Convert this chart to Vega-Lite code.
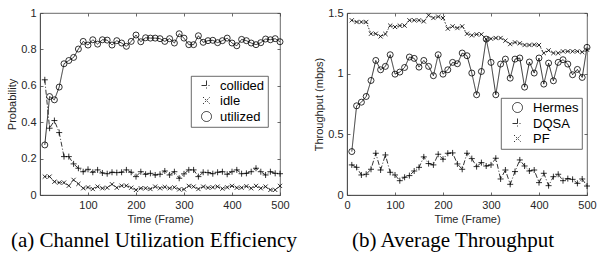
{
  "$schema": "https://vega.github.io/schema/vega-lite/v6.json",
  "padding": {"left": 6, "top": 6, "right": 5, "bottom": 2},
  "bounds": "flush",
  "spacing": 67,
  "resolve": {"scale": {"shape": "independent", "strokeDash": "independent"}, "legend": {"shape": "independent", "strokeDash": "independent"}},
  "config": {
    "view": {"stroke": "#444", "strokeWidth": 0.8},
    "axis": {"grid": false, "labelFont": "Liberation Sans", "labelFontSize": 11, "labelColor": "#262626", "titleFont": "Liberation Sans", "titleFontSize": 11, "titleFontWeight": "normal", "titleColor": "#262626", "domainColor": "#444", "domainWidth": 0.8, "tickColor": "#444", "tickWidth": 0.8, "tickSize": -3, "labelPadding": 7, "titlePadding": 3, "labelFlush": false, "labelOverlap": false},
    "legend": {"labelFont": "Liberation Sans", "labelFontSize": 13, "labelColor": "black", "fillColor": "white", "strokeColor": "#444", "strokeWidth": 0.8, "padding": 3, "rowPadding": 1, "symbolSize": 100, "symbolStrokeWidth": 0.8},
    "title": {"font": "Liberation Serif", "fontSize": 21, "fontWeight": "normal", "color": "black", "offset": 6}
  },
  "datasets": {
    "util": [
      {"t": 10, "series": "utilized", "v": 0.275}, {"t": 20, "series": "utilized", "v": 0.541}, {"t": 30, "series": "utilized", "v": 0.523}, {"t": 40, "series": "utilized", "v": 0.593}, {"t": 50, "series": "utilized", "v": 0.721},
      {"t": 60, "series": "utilized", "v": 0.739}, {"t": 70, "series": "utilized", "v": 0.756}, {"t": 80, "series": "utilized", "v": 0.802}, {"t": 90, "series": "utilized", "v": 0.844}, {"t": 100, "series": "utilized", "v": 0.824},
      {"t": 110, "series": "utilized", "v": 0.853}, {"t": 120, "series": "utilized", "v": 0.829}, {"t": 130, "series": "utilized", "v": 0.853}, {"t": 140, "series": "utilized", "v": 0.851}, {"t": 150, "series": "utilized", "v": 0.824},
      {"t": 160, "series": "utilized", "v": 0.848}, {"t": 170, "series": "utilized", "v": 0.835}, {"t": 180, "series": "utilized", "v": 0.817}, {"t": 190, "series": "utilized", "v": 0.844}, {"t": 200, "series": "utilized", "v": 0.879},
      {"t": 210, "series": "utilized", "v": 0.842}, {"t": 220, "series": "utilized", "v": 0.864}, {"t": 230, "series": "utilized", "v": 0.862}, {"t": 240, "series": "utilized", "v": 0.862}, {"t": 250, "series": "utilized", "v": 0.859},
      {"t": 260, "series": "utilized", "v": 0.844}, {"t": 270, "series": "utilized", "v": 0.859}, {"t": 280, "series": "utilized", "v": 0.835}, {"t": 290, "series": "utilized", "v": 0.886}, {"t": 300, "series": "utilized", "v": 0.862},
      {"t": 310, "series": "utilized", "v": 0.826}, {"t": 320, "series": "utilized", "v": 0.826}, {"t": 330, "series": "utilized", "v": 0.875}, {"t": 340, "series": "utilized", "v": 0.839}, {"t": 350, "series": "utilized", "v": 0.848},
      {"t": 360, "series": "utilized", "v": 0.850}, {"t": 370, "series": "utilized", "v": 0.837}, {"t": 380, "series": "utilized", "v": 0.848}, {"t": 390, "series": "utilized", "v": 0.862}, {"t": 400, "series": "utilized", "v": 0.835},
      {"t": 410, "series": "utilized", "v": 0.820}, {"t": 420, "series": "utilized", "v": 0.855}, {"t": 430, "series": "utilized", "v": 0.848}, {"t": 440, "series": "utilized", "v": 0.835}, {"t": 450, "series": "utilized", "v": 0.826},
      {"t": 460, "series": "utilized", "v": 0.837}, {"t": 470, "series": "utilized", "v": 0.857}, {"t": 480, "series": "utilized", "v": 0.853}, {"t": 490, "series": "utilized", "v": 0.859}, {"t": 500, "series": "utilized", "v": 0.842},
      {"t": 10, "series": "collided", "v": 0.633}, {"t": 20, "series": "collided", "v": 0.367}, {"t": 30, "series": "collided", "v": 0.409}, {"t": 40, "series": "collided", "v": 0.343}, {"t": 50, "series": "collided", "v": 0.211},
      {"t": 60, "series": "collided", "v": 0.211}, {"t": 70, "series": "collided", "v": 0.171}, {"t": 80, "series": "collided", "v": 0.147}, {"t": 90, "series": "collided", "v": 0.128}, {"t": 100, "series": "collided", "v": 0.141},
      {"t": 110, "series": "collided", "v": 0.125}, {"t": 120, "series": "collided", "v": 0.138}, {"t": 130, "series": "collided", "v": 0.121}, {"t": 140, "series": "collided", "v": 0.117}, {"t": 150, "series": "collided", "v": 0.125},
      {"t": 160, "series": "collided", "v": 0.123}, {"t": 170, "series": "collided", "v": 0.125}, {"t": 180, "series": "collided", "v": 0.138}, {"t": 190, "series": "collided", "v": 0.125}, {"t": 200, "series": "collided", "v": 0.101},
      {"t": 210, "series": "collided", "v": 0.128}, {"t": 220, "series": "collided", "v": 0.114}, {"t": 230, "series": "collided", "v": 0.119}, {"t": 240, "series": "collided", "v": 0.110}, {"t": 250, "series": "collided", "v": 0.114},
      {"t": 260, "series": "collided", "v": 0.132}, {"t": 270, "series": "collided", "v": 0.110}, {"t": 280, "series": "collided", "v": 0.128}, {"t": 290, "series": "collided", "v": 0.092}, {"t": 300, "series": "collided", "v": 0.116},
      {"t": 310, "series": "collided", "v": 0.138}, {"t": 320, "series": "collided", "v": 0.138}, {"t": 330, "series": "collided", "v": 0.101}, {"t": 340, "series": "collided", "v": 0.125}, {"t": 350, "series": "collided", "v": 0.123},
      {"t": 360, "series": "collided", "v": 0.117}, {"t": 370, "series": "collided", "v": 0.125}, {"t": 380, "series": "collided", "v": 0.128}, {"t": 390, "series": "collided", "v": 0.114}, {"t": 400, "series": "collided", "v": 0.128},
      {"t": 410, "series": "collided", "v": 0.138}, {"t": 420, "series": "collided", "v": 0.117}, {"t": 430, "series": "collided", "v": 0.119}, {"t": 440, "series": "collided", "v": 0.128}, {"t": 450, "series": "collided", "v": 0.147},
      {"t": 460, "series": "collided", "v": 0.128}, {"t": 470, "series": "collided", "v": 0.110}, {"t": 480, "series": "collided", "v": 0.128}, {"t": 490, "series": "collided", "v": 0.119}, {"t": 500, "series": "collided", "v": 0.117},
      {"t": 10, "series": "idle", "v": 0.101}, {"t": 20, "series": "idle", "v": 0.101}, {"t": 30, "series": "idle", "v": 0.073}, {"t": 40, "series": "idle", "v": 0.068}, {"t": 50, "series": "idle", "v": 0.068},
      {"t": 60, "series": "idle", "v": 0.051}, {"t": 70, "series": "idle", "v": 0.083}, {"t": 80, "series": "idle", "v": 0.061}, {"t": 90, "series": "idle", "v": 0.037}, {"t": 100, "series": "idle", "v": 0.042},
      {"t": 110, "series": "idle", "v": 0.033}, {"t": 120, "series": "idle", "v": 0.046}, {"t": 130, "series": "idle", "v": 0.037}, {"t": 140, "series": "idle", "v": 0.040}, {"t": 150, "series": "idle", "v": 0.059},
      {"t": 160, "series": "idle", "v": 0.040}, {"t": 170, "series": "idle", "v": 0.051}, {"t": 180, "series": "idle", "v": 0.051}, {"t": 190, "series": "idle", "v": 0.040}, {"t": 200, "series": "idle", "v": 0.028},
      {"t": 210, "series": "idle", "v": 0.037}, {"t": 220, "series": "idle", "v": 0.037}, {"t": 230, "series": "idle", "v": 0.033}, {"t": 240, "series": "idle", "v": 0.046}, {"t": 250, "series": "idle", "v": 0.037},
      {"t": 260, "series": "idle", "v": 0.044}, {"t": 270, "series": "idle", "v": 0.037}, {"t": 280, "series": "idle", "v": 0.042}, {"t": 290, "series": "idle", "v": 0.031}, {"t": 300, "series": "idle", "v": 0.031},
      {"t": 310, "series": "idle", "v": 0.050}, {"t": 320, "series": "idle", "v": 0.046}, {"t": 330, "series": "idle", "v": 0.033}, {"t": 340, "series": "idle", "v": 0.046}, {"t": 350, "series": "idle", "v": 0.040},
      {"t": 360, "series": "idle", "v": 0.042}, {"t": 370, "series": "idle", "v": 0.046}, {"t": 380, "series": "idle", "v": 0.035}, {"t": 390, "series": "idle", "v": 0.042}, {"t": 400, "series": "idle", "v": 0.050},
      {"t": 410, "series": "idle", "v": 0.040}, {"t": 420, "series": "idle", "v": 0.040}, {"t": 430, "series": "idle", "v": 0.048}, {"t": 440, "series": "idle", "v": 0.037}, {"t": 450, "series": "idle", "v": 0.050},
      {"t": 460, "series": "idle", "v": 0.037}, {"t": 470, "series": "idle", "v": 0.046}, {"t": 480, "series": "idle", "v": 0.028}, {"t": 490, "series": "idle", "v": 0.028}, {"t": 500, "series": "idle", "v": 0.050}
    ],
    "tput": [
      {"t": 10, "series": "Hermes", "v": 0.358}, {"t": 20, "series": "Hermes", "v": 0.735}, {"t": 30, "series": "Hermes", "v": 0.765}, {"t": 40, "series": "Hermes", "v": 0.812}, {"t": 50, "series": "Hermes", "v": 0.944},
      {"t": 60, "series": "Hermes", "v": 1.109}, {"t": 70, "series": "Hermes", "v": 1.032}, {"t": 80, "series": "Hermes", "v": 1.060}, {"t": 90, "series": "Hermes", "v": 1.156}, {"t": 100, "series": "Hermes", "v": 0.996},
      {"t": 110, "series": "Hermes", "v": 1.013}, {"t": 120, "series": "Hermes", "v": 1.051}, {"t": 130, "series": "Hermes", "v": 1.137}, {"t": 140, "series": "Hermes", "v": 1.126}, {"t": 150, "series": "Hermes", "v": 1.054},
      {"t": 160, "series": "Hermes", "v": 1.109}, {"t": 170, "series": "Hermes", "v": 1.060}, {"t": 180, "series": "Hermes", "v": 0.983}, {"t": 190, "series": "Hermes", "v": 1.156}, {"t": 200, "series": "Hermes", "v": 0.996},
      {"t": 210, "series": "Hermes", "v": 1.032}, {"t": 220, "series": "Hermes", "v": 1.093}, {"t": 230, "series": "Hermes", "v": 1.082}, {"t": 240, "series": "Hermes", "v": 1.170}, {"t": 250, "series": "Hermes", "v": 1.148},
      {"t": 260, "series": "Hermes", "v": 1.005}, {"t": 270, "series": "Hermes", "v": 0.826}, {"t": 280, "series": "Hermes", "v": 1.018}, {"t": 290, "series": "Hermes", "v": 1.285}, {"t": 300, "series": "Hermes", "v": 1.093},
      {"t": 310, "series": "Hermes", "v": 0.826}, {"t": 320, "series": "Hermes", "v": 1.079}, {"t": 330, "series": "Hermes", "v": 1.120}, {"t": 340, "series": "Hermes", "v": 0.963}, {"t": 350, "series": "Hermes", "v": 1.120},
      {"t": 360, "series": "Hermes", "v": 1.129}, {"t": 370, "series": "Hermes", "v": 0.889}, {"t": 380, "series": "Hermes", "v": 1.096}, {"t": 390, "series": "Hermes", "v": 1.005}, {"t": 400, "series": "Hermes", "v": 1.129},
      {"t": 410, "series": "Hermes", "v": 0.914}, {"t": 420, "series": "Hermes", "v": 1.087}, {"t": 430, "series": "Hermes", "v": 0.941}, {"t": 440, "series": "Hermes", "v": 1.093}, {"t": 450, "series": "Hermes", "v": 1.115},
      {"t": 460, "series": "Hermes", "v": 1.079}, {"t": 470, "series": "Hermes", "v": 0.991}, {"t": 480, "series": "Hermes", "v": 1.035}, {"t": 490, "series": "Hermes", "v": 0.969}, {"t": 500, "series": "Hermes", "v": 1.217},
      {"t": 10, "series": "DQSA", "v": 0.248}, {"t": 20, "series": "DQSA", "v": 0.228}, {"t": 30, "series": "DQSA", "v": 0.165}, {"t": 40, "series": "DQSA", "v": 0.171}, {"t": 50, "series": "DQSA", "v": 0.212},
      {"t": 60, "series": "DQSA", "v": 0.344}, {"t": 70, "series": "DQSA", "v": 0.206}, {"t": 80, "series": "DQSA", "v": 0.330}, {"t": 90, "series": "DQSA", "v": 0.187}, {"t": 100, "series": "DQSA", "v": 0.165},
      {"t": 110, "series": "DQSA", "v": 0.118}, {"t": 120, "series": "DQSA", "v": 0.146}, {"t": 130, "series": "DQSA", "v": 0.160}, {"t": 140, "series": "DQSA", "v": 0.198}, {"t": 150, "series": "DQSA", "v": 0.228},
      {"t": 160, "series": "DQSA", "v": 0.314}, {"t": 170, "series": "DQSA", "v": 0.259}, {"t": 180, "series": "DQSA", "v": 0.248}, {"t": 190, "series": "DQSA", "v": 0.336}, {"t": 200, "series": "DQSA", "v": 0.295},
      {"t": 210, "series": "DQSA", "v": 0.344}, {"t": 220, "series": "DQSA", "v": 0.347}, {"t": 230, "series": "DQSA", "v": 0.256}, {"t": 240, "series": "DQSA", "v": 0.212}, {"t": 250, "series": "DQSA", "v": 0.344},
      {"t": 260, "series": "DQSA", "v": 0.300}, {"t": 270, "series": "DQSA", "v": 0.234}, {"t": 280, "series": "DQSA", "v": 0.267}, {"t": 290, "series": "DQSA", "v": 0.239}, {"t": 300, "series": "DQSA", "v": 0.248},
      {"t": 310, "series": "DQSA", "v": 0.303}, {"t": 320, "series": "DQSA", "v": 0.132}, {"t": 330, "series": "DQSA", "v": 0.206}, {"t": 340, "series": "DQSA", "v": 0.088}, {"t": 350, "series": "DQSA", "v": 0.193},
      {"t": 360, "series": "DQSA", "v": 0.289}, {"t": 370, "series": "DQSA", "v": 0.239}, {"t": 380, "series": "DQSA", "v": 0.198}, {"t": 390, "series": "DQSA", "v": 0.206}, {"t": 400, "series": "DQSA", "v": 0.102},
      {"t": 410, "series": "DQSA", "v": 0.179}, {"t": 420, "series": "DQSA", "v": 0.077}, {"t": 430, "series": "DQSA", "v": 0.151}, {"t": 440, "series": "DQSA", "v": 0.171}, {"t": 450, "series": "DQSA", "v": 0.118},
      {"t": 460, "series": "DQSA", "v": 0.135}, {"t": 470, "series": "DQSA", "v": 0.129}, {"t": 480, "series": "DQSA", "v": 0.096}, {"t": 490, "series": "DQSA", "v": 0.132}, {"t": 500, "series": "DQSA", "v": 0.074},
      {"t": 10, "series": "PF", "v": 1.440}, {"t": 20, "series": "PF", "v": 1.426}, {"t": 30, "series": "PF", "v": 1.426}, {"t": 40, "series": "PF", "v": 1.426}, {"t": 50, "series": "PF", "v": 1.329},
      {"t": 60, "series": "PF", "v": 1.329}, {"t": 70, "series": "PF", "v": 1.307}, {"t": 80, "series": "PF", "v": 1.327}, {"t": 90, "series": "PF", "v": 1.396}, {"t": 100, "series": "PF", "v": 1.385},
      {"t": 110, "series": "PF", "v": 1.396}, {"t": 120, "series": "PF", "v": 1.396}, {"t": 130, "series": "PF", "v": 1.440}, {"t": 140, "series": "PF", "v": 1.440}, {"t": 150, "series": "PF", "v": 1.440},
      {"t": 160, "series": "PF", "v": 1.431}, {"t": 170, "series": "PF", "v": 1.481}, {"t": 180, "series": "PF", "v": 1.459}, {"t": 190, "series": "PF", "v": 1.470}, {"t": 200, "series": "PF", "v": 1.459},
      {"t": 210, "series": "PF", "v": 1.371}, {"t": 220, "series": "PF", "v": 1.390}, {"t": 230, "series": "PF", "v": 1.376}, {"t": 240, "series": "PF", "v": 1.390}, {"t": 250, "series": "PF", "v": 1.329},
      {"t": 260, "series": "PF", "v": 1.316}, {"t": 270, "series": "PF", "v": 1.324}, {"t": 280, "series": "PF", "v": 1.324}, {"t": 290, "series": "PF", "v": 1.285}, {"t": 300, "series": "PF", "v": 1.288},
      {"t": 310, "series": "PF", "v": 1.294}, {"t": 320, "series": "PF", "v": 1.294}, {"t": 330, "series": "PF", "v": 1.272}, {"t": 340, "series": "PF", "v": 1.244}, {"t": 350, "series": "PF", "v": 1.258},
      {"t": 360, "series": "PF", "v": 1.250}, {"t": 370, "series": "PF", "v": 1.236}, {"t": 380, "series": "PF", "v": 1.236}, {"t": 390, "series": "PF", "v": 1.239}, {"t": 400, "series": "PF", "v": 1.236},
      {"t": 410, "series": "PF", "v": 1.170}, {"t": 420, "series": "PF", "v": 1.192}, {"t": 430, "series": "PF", "v": 1.170}, {"t": 440, "series": "PF", "v": 1.170}, {"t": 450, "series": "PF", "v": 1.184},
      {"t": 460, "series": "PF", "v": 1.184}, {"t": 470, "series": "PF", "v": 1.184}, {"t": 480, "series": "PF", "v": 1.184}, {"t": 490, "series": "PF", "v": 1.178}, {"t": 500, "series": "PF", "v": 1.197}
    ]
  },
  "hconcat": [
    {
      "width": 240,
      "height": 182,
      "title": {"text": "(a) Channel Utilization Efficiency", "orient": "bottom", "anchor": "start", "frame": "group", "dx": -29, "font": "Liberation Serif", "fontSize": 21, "fontWeight": "normal", "color": "black"},
      "data": {"name": "util"},
      "resolve": {"axis": {"x": "independent", "y": "independent"}},
      "layer": [
        {
          "mark": {"type": "line", "color": "black", "strokeWidth": 0.8},
          "encoding": {
            "x": {"field": "t", "type": "quantitative", "scale": {"domain": [0, 500], "nice": false, "zero": false}, "axis": {"orient": "bottom", "title": "Time (Frame)", "values": [100, 200, 300, 400, 500]}},
            "y": {"field": "v", "type": "quantitative", "scale": {"domain": [0, 1], "nice": false}, "axis": {"orient": "left", "title": "Probability", "values": [0, 0.2, 0.4, 0.6, 0.8, 1], "format": "~g"}},
            "strokeDash": {
              "field": "series", "type": "nominal",
              "scale": {"domain": ["collided", "idle", "utilized"], "range": [[5, 2, 1, 2], [1.5, 1.5], [1, 0]]},
              "legend": {"title": null, "orient": "none", "legendX": 151, "legendY": 63, "symbolOffset": 6, "labelOffset": 7}
            }
          }
        },
        {
          "mark": {"type": "point", "filled": false, "color": "black", "size": 36, "strokeWidth": 0.8, "opacity": 1},
          "encoding": {
            "x": {"field": "t", "type": "quantitative", "scale": {"domain": [0, 500], "nice": false, "zero": false}, "axis": {"orient": "top", "title": null, "labels": false, "domain": false, "values": [100, 200, 300, 400, 500]}},
            "y": {"field": "v", "type": "quantitative", "scale": {"domain": [0, 1], "nice": false}, "axis": {"orient": "right", "title": null, "labels": false, "domain": false, "values": [0, 0.2, 0.4, 0.6, 0.8, 1]}},
            "shape": {
              "field": "series", "type": "nominal",
              "scale": {"domain": ["collided", "idle", "utilized"], "range": ["M-1,0H1M0,-1V1", "M-0.7,-0.7L0.7,0.7M-0.7,0.7L0.7,-0.7", "circle"]},
              "legend": {"title": null, "orient": "none", "legendX": 151, "legendY": 63, "symbolOffset": 6, "labelOffset": 7}
            }
          }
        }
      ]
    },
    {
      "width": 240,
      "height": 182,
      "title": {"text": "(b) Average Throughput", "orient": "bottom", "anchor": "start", "frame": "group", "dx": 5, "font": "Liberation Serif", "fontSize": 21, "fontWeight": "normal", "color": "black"},
      "data": {"name": "tput"},
      "resolve": {"axis": {"x": "independent", "y": "independent"}},
      "layer": [
        {
          "mark": {"type": "line", "color": "black", "strokeWidth": 0.8},
          "encoding": {
            "x": {"field": "t", "type": "quantitative", "scale": {"domain": [0, 500], "nice": false, "zero": false}, "axis": {"orient": "bottom", "title": "Time (Frame)", "values": [0, 100, 200, 300, 400, 500]}},
            "y": {"field": "v", "type": "quantitative", "scale": {"domain": [0, 1.5], "nice": false}, "axis": {"orient": "left", "title": "Throughput (mbps)", "values": [0, 0.5, 1, 1.5], "format": "~g"}},
            "strokeDash": {
              "field": "series", "type": "nominal",
              "scale": {"domain": ["Hermes", "DQSA", "PF"], "range": [[1, 0], [5, 2, 1, 2], [1.5, 1.5]]},
              "legend": {"title": null, "orient": "none", "legendX": 154, "legendY": 85, "symbolOffset": 7, "labelOffset": 9}
            }
          }
        },
        {
          "mark": {"type": "point", "filled": false, "color": "black", "size": 36, "strokeWidth": 0.8, "opacity": 1},
          "encoding": {
            "x": {"field": "t", "type": "quantitative", "scale": {"domain": [0, 500], "nice": false, "zero": false}, "axis": {"orient": "top", "title": null, "labels": false, "domain": false, "values": [0, 100, 200, 300, 400, 500]}},
            "y": {"field": "v", "type": "quantitative", "scale": {"domain": [0, 1.5], "nice": false}, "axis": {"orient": "right", "title": null, "labels": false, "domain": false, "values": [0, 0.5, 1, 1.5]}},
            "shape": {
              "field": "series", "type": "nominal",
              "scale": {"domain": ["Hermes", "DQSA", "PF"], "range": ["circle", "M-1,0H1M0,-1V1", "M-0.7,-0.7L0.7,0.7M-0.7,0.7L0.7,-0.7"]},
              "legend": {"title": null, "orient": "none", "legendX": 154, "legendY": 85, "symbolOffset": 7, "labelOffset": 9}
            }
          }
        }
      ]
    }
  ]
}
